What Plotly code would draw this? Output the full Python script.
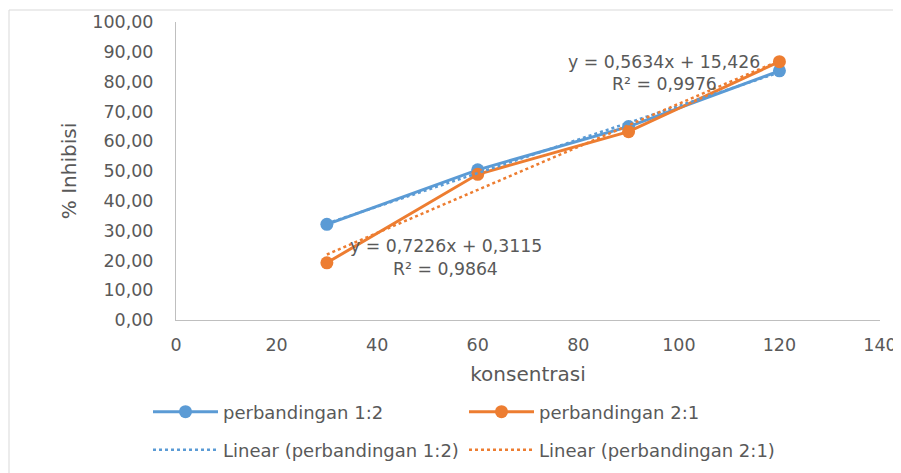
import numpy as np
import plotly.graph_objects as go

# ---- data ----
konsentrasi = [30, 60, 90, 120]
inhibisi_12 = [32.1, 50.4, 64.9, 83.6]   # perbandingan 1:2
inhibisi_21 = [19.2, 48.9, 63.2, 86.7]   # perbandingan 2:1

series_names = ["perbandingan 1:2", "perbandingan 2:1"]
trend_names = ["Linear (perbandingan 1:2)", "Linear (perbandingan 2:1)"]
eq_texts = [["y = 0,5634x + 15,426", "R² = 0,9976"],
            ["y = 0,7226x + 0,3115", "R² = 0,9864"]]

x_ticks = [0, 20, 40, 60, 80, 100, 120, 140]
y_ticks = [0, 10, 20, 30, 40, 50, 60, 70, 80, 90, 100]

BLUE = "#5B9BD5"
ORANGE = "#ED7D31"
TXT = "#595959"
AX = "#BFBFBF"
FONT = "DejaVu Sans"

fig = go.Figure()

x = np.array(konsentrasi, dtype=float)
for name, ys, col in [(series_names[0], inhibisi_12, BLUE), (series_names[1], inhibisi_21, ORANGE)]:
    fig.add_trace(go.Scatter(
        x=konsentrasi, y=ys, name=name, mode="lines+markers",
        line=dict(color=col, width=3), marker=dict(color=col, size=13),
        legend="legend"))

for name, ys, col in [(trend_names[0], inhibisi_12, BLUE), (trend_names[1], inhibisi_21, ORANGE)]:
    m, b = np.polyfit(x, np.array(ys, dtype=float), 1)
    xt = np.array([x.min(), x.max()])
    fig.add_trace(go.Scatter(
        x=xt, y=m * xt + b, name=name, mode="lines",
        line=dict(color=col, width=2.5, dash="dot"), legend="legend2"))

# figure geometry (pixels); the page shows the figure offset by 8px
W, H = 901, 473
OFF = 8
L, R, T, B = 168, 29, 14, 161
PW, PH = W - L - R, H - T - B

def px(screen_x):
    return (screen_x - OFF - L) / PW

def py(screen_y):
    return (H - B - (screen_y - OFF)) / PH

# equation labels (data coordinates)
eq_pos = [((97.1, 86.7), (97.1, 79.3)), ((53.6, 25.0), (53.6, 17.0))]
for texts, poss in zip(eq_texts, eq_pos):
    for t, (ax_, ay_) in zip(texts, poss):
        fig.add_annotation(x=ax_, y=ay_, text=t, showarrow=False,
                           font=dict(family=FONT, size=17.3, color=TXT),
                           xanchor="center", yanchor="middle")

# chart border (top and left edges visible)
fig.add_shape(type="line", xref="paper", yref="paper",
              x0=px(9), x1=px(915), y0=py(10), y1=py(10),
              line=dict(color="#D9D9D9", width=1))
fig.add_shape(type="line", xref="paper", yref="paper",
              x0=px(9), x1=px(9), y0=py(10), y1=py(490),
              line=dict(color="#D9D9D9", width=1))

legend_common = dict(orientation="h", xanchor="left", yanchor="middle",
                     font=dict(family=FONT, size=18, color=TXT),
                     entrywidth=236, entrywidthmode="pixels",
                     itemwidth=65, bgcolor="rgba(0,0,0,0)", borderwidth=0)

fig.update_layout(
    width=W, height=H,
    margin=dict(l=L, r=R, t=T, b=B, autoexpand=False),
    paper_bgcolor="white", plot_bgcolor="white",
    separators=",.",
    font=dict(family=FONT, color=TXT),
    showlegend=True,
    legend=dict(x=px(148), y=py(412), **legend_common),
    legend2=dict(x=px(148), y=py(450), **legend_common),
    xaxis=dict(range=[0, 140], tickvals=x_ticks, showgrid=False, zeroline=False,
               showline=True, linecolor=AX, linewidth=1, ticks="",
               ticklabelstandoff=9,
               tickfont=dict(family=FONT, size=17.5, color=TXT),
               title=dict(text="konsentrasi", standoff=12,
                          font=dict(family=FONT, size=20, color=TXT)),
               fixedrange=True),
    yaxis=dict(range=[0, 100], tickvals=y_ticks, tickformat=".2f",
               showgrid=False, zeroline=False,
               showline=True, linecolor=AX, linewidth=1, ticks="",
               ticklabelstandoff=18,
               tickfont=dict(family=FONT, size=17.5, color=TXT),
               title=dict(text="% Inhibisi", standoff=10,
                          font=dict(family=FONT, size=20, color=TXT)),
               fixedrange=True),
)

fig.write_html("out.html")
